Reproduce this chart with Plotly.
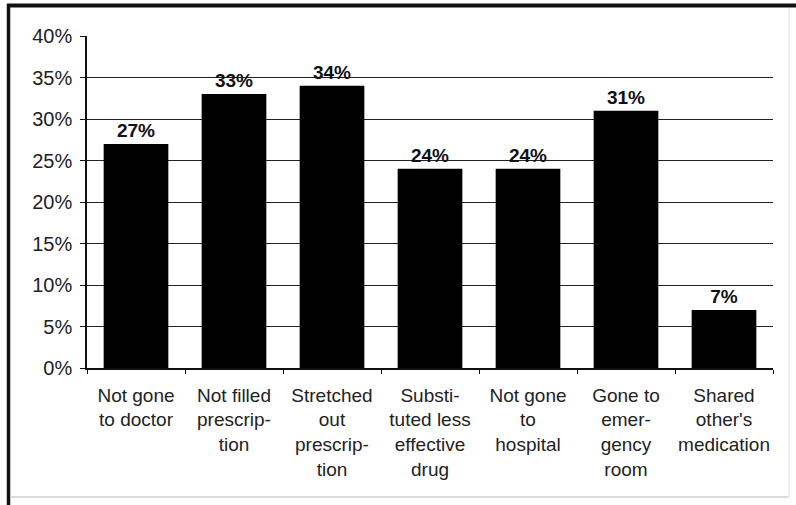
import plotly.graph_objects as go

# Share of respondents reporting each cost-related behaviour
categories = [
    "Not gone<br>to doctor",
    "Not filled<br>prescrip-<br>tion",
    "Stretched<br>out<br>prescrip-<br>tion",
    "Substi-<br>tuted less<br>effective<br>drug",
    "Not gone<br>to<br>hospital",
    "Gone to<br>emer-<br>gency<br>room",
    "Shared<br>other's<br>medication",
]
percent = [27, 33, 34, 24, 24, 31, 7]
y_ticks = [0, 5, 10, 15, 20, 25, 30, 35, 40]
y_tick_labels = [f"{v}%" for v in y_ticks]

FONT = "Liberation Sans, Arial, sans-serif"

fig = go.Figure(
    go.Bar(
        x=categories,
        y=percent,
        marker=dict(color="black", line=dict(width=0)),
        width=0.66,
        text=[f"<b>{v}%</b>" for v in percent],
        textposition="outside",
        textfont=dict(family=FONT, size=19, color="#111"),
        cliponaxis=False,
    )
)

W, H = 796, 505
ml, mr, mt, mb = 87, 23, 36, 137
pw, ph = W - ml - mr, H - mt - mb


def px_x(p):
    return (p - ml) / pw


def px_y(p):
    return (H - mb - p) / ph


# Frame around the whole figure
frame = [
    dict(x0=px_x(7), x1=px_x(796), y0=px_y(5.5), y1=px_y(5.5), color="#111", width=4),
    dict(x0=px_x(8.5), x1=px_x(8.5), y0=px_y(4), y1=px_y(505), color="#111", width=3.5),
    dict(x0=px_x(10), x1=px_x(788), y0=px_y(497), y1=px_y(497), color="#cfcfcf", width=1.5),
    dict(x0=px_x(789), x1=px_x(789), y0=px_y(8), y1=px_y(497), color="#e2e2e2", width=1.2),
]
shapes = [
    dict(type="line", xref="paper", yref="paper",
         x0=f["x0"], x1=f["x1"], y0=f["y0"], y1=f["y1"],
         line=dict(color=f["color"], width=f["width"]), layer="above")
    for f in frame
]

fig.update_layout(
    width=W,
    height=H,
    margin=dict(l=ml, r=mr, t=mt, b=mb, autoexpand=False),
    paper_bgcolor="white",
    plot_bgcolor="white",
    showlegend=False,
    font=dict(family=FONT, size=19, color="#222"),
    shapes=shapes,
    bargap=0.34,
)

fig.update_xaxes(
    type="category",
    automargin=False,
    tickangle=0,
    showgrid=False,
    showline=True,
    linecolor="#111",
    linewidth=1.5,
    ticks="outside",
    tickson="boundaries",
    ticklen=4,
    tickcolor="#111",
    tickfont=dict(family=FONT, size=19, color="#222"),
    ticklabelstandoff=9,
)

fig.update_yaxes(
    range=[0, 40],
    automargin=False,
    tickvals=y_ticks,
    ticktext=y_tick_labels,
    showgrid=True,
    gridcolor="#222",
    gridwidth=1.3,
    showline=True,
    linecolor="#111",
    linewidth=1.5,
    ticks="outside",
    ticklen=5,
    tickcolor="#111",
    zeroline=False,
    tickfont=dict(family=FONT, size=20, color="#222"),
    ticklabelstandoff=4,
)

fig.write_html("out.html")
